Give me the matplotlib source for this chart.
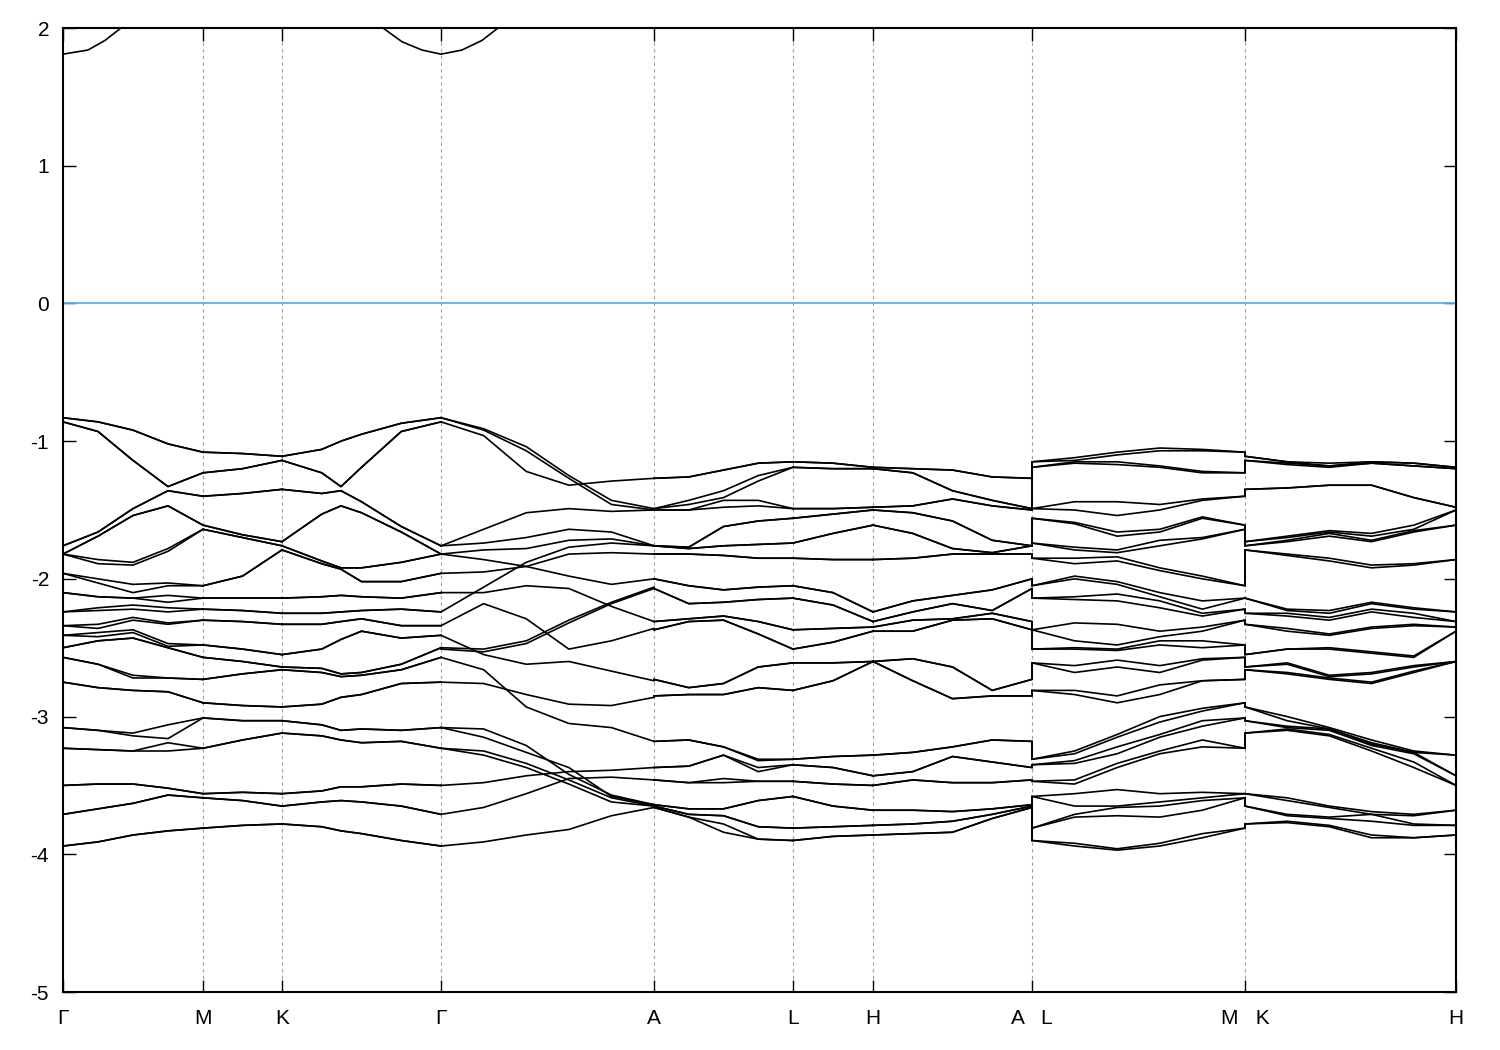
import numpy as np
import matplotlib
matplotlib.use("Agg")
import matplotlib.pyplot as plt

plt.rcParams['font.family'] = ['Liberation Sans', 'DejaVu Sans']
plt.rcParams['axes.unicode_minus'] = False

# high-symmetry points along the path (normalised path length)
hsp_pos = [0.0, 0.1005, 0.1572, 0.2714, 0.4243, 0.5240, 0.5815, 0.6956, 0.8485, 1.0]
hsp_labels = ['Γ', 'M', 'K', 'Γ', 'A', 'L', 'H', 'A   L', 'M   K', 'H']

# energies (eV) read column by column; a float is a twofold level,
# a tuple is a pair that is split at that k
G = [-0.83, -0.86, -1.76, -1.82, -1.82, -1.96, -2.10, -2.24, -2.34, -2.41, -2.50, -2.57, -2.75, -3.08, -3.23, -3.50, -3.71, -3.94]
M = [-1.08, -1.23, -1.40, -1.61, -1.64, -2.05, -2.14, -2.22, -2.30, -2.48, -2.57, -2.73, -2.90, -3.01, -3.23, -3.56, -3.59, -3.81]
K = [-1.11, -1.14, -1.35, -1.73, -1.76, -1.79, -2.14, -2.25, -2.33, -2.55, -2.64, -2.66, -2.93, -3.03, -3.12, -3.56, -3.65, -3.78]
A = [-1.27, -1.49, -1.50, -1.76, -1.76, -1.82, -2.00, -2.07, -2.31, -2.37, -2.73, -2.85, -3.18, -3.37, -3.46, -3.64, -3.65, -3.66]
L = [-1.15, -1.19, -1.49, -1.56, -1.74, -1.85, -2.05, -2.14, -2.37, -2.51, -2.61, -2.81, -3.31, -3.35, -3.47, -3.58, -3.81, -3.90]
H = [-1.19, -1.20, -1.48, -1.50, -1.61, -1.86, -2.24, -2.31, -2.35, -2.38, -2.60, -2.60, -3.28, -3.43, -3.50, -3.68, -3.79, -3.86]

gm1 = [-0.86, -0.93, -1.66, -1.69, (-1.86, -1.89), (-2.00, -2.03), -2.13, (-2.21, -2.23), (-2.33, -2.36), (-2.39, -2.42), -2.45, -2.62, -2.79, -3.10, -3.24, -3.49, -3.67, -3.91]
gm2 = [-0.92, -1.14, -1.49, -1.54, (-1.88, -1.90), (-2.04, -2.10), -2.14, (-2.19, -2.22), (-2.28, -2.30), (-2.37, -2.39), -2.43, (-2.70, -2.72), -2.81, (-3.12, -3.14), -3.25, -3.49, -3.63, -3.86]
gm3 = [-1.02, -1.33, -1.36, -1.47, (-1.78, -1.80), (-2.03, -2.05), (-2.12, -2.17), (-2.21, -2.24), (-2.32, -2.33), (-2.47, -2.49), -2.50, -2.72, -2.82, (-3.06, -3.16), (-3.19, -3.25), -3.52, -3.57, -3.83]
mk1 = [-1.09, -1.20, -1.38, -1.68, -1.70, -1.98, -2.14, -2.23, -2.31, -2.51, -2.60, -2.69, -2.92, -3.03, -3.17, -3.55, -3.61, -3.79]
kg1 = [-1.06, -1.23, -1.38, -1.53, -1.87, -1.89, -2.13, -2.25, -2.33, -2.51, -2.65, -2.68, -2.91, -3.06, -3.14, -3.54, -3.62, -3.80]
kgc = [-1.00, -1.33, -1.36, -1.47, -1.92, -1.93, -2.12, -2.24, -2.31, -2.44, -2.69, -2.71, -2.86, -3.10, -3.17, -3.51, -3.61, -3.83]
kg2 = [-0.95, -1.19, -1.44, -1.52, -1.92, -2.02, -2.13, -2.23, -2.29, -2.38, -2.68, -2.70, -2.84, -3.09, -3.19, -3.51, -3.62, -3.85]
kg3 = [-0.87, -0.93, -1.62, -1.66, -1.88, -2.02, -2.14, -2.22, -2.34, -2.43, -2.62, -2.66, -2.76, -3.10, -3.18, -3.49, -3.65, -3.90]

# Γ-A: bands followed one by one (they cross a lot), at 0, .2, .4, .6, .8, 1
ga_frac = [0, 0.2, 0.4, 0.6, 0.8, 1]
ga_lines = [
    [-0.86, -0.96, -1.22, -1.32, -1.29, -1.27],
    [-0.83, -0.91, -1.04, -1.25, -1.43, -1.49],
    [-0.83, -0.92, -1.07, -1.27, -1.46, -1.50],
    [-1.76, -1.64, -1.52, -1.49, -1.51, -1.50],
    [-1.76, -1.74, -1.70, -1.64, -1.66, -1.76],
    [-1.82, -1.79, -1.78, -1.72, -1.71, -1.76],
    [-1.82, -1.86, -1.91, -1.98, -2.04, -2.00],
    [-1.96, -1.95, -1.91, -1.82, -1.81, -1.82],
    [-2.10, -2.10, -2.05, -2.07, -2.20, -2.31],
    [-2.24, -2.06, -1.88, -1.77, -1.74, -1.76],
    [-2.34, -2.18, -2.29, -2.51, -2.45, -2.36],
    [-2.41, -2.55, -2.62, -2.60, -2.67, -2.74],
    [-2.50, -2.51, -2.45, -2.30, -2.17, -2.06],
    [-2.51, -2.53, -2.47, -2.32, -2.18, -2.07],
    [-2.57, -2.66, -2.93, -3.05, -3.08, -3.18],
    [-2.75, -2.76, -2.84, -2.91, -2.92, -2.86],
    [-3.08, -3.09, -3.21, -3.42, -3.57, -3.64],
    [-3.08, -3.15, -3.26, -3.37, -3.58, -3.64],
    [-3.23, -3.28, -3.37, -3.49, -3.62, -3.65],
    [-3.23, -3.25, -3.34, -3.46, -3.59, -3.65],
    [-3.50, -3.48, -3.43, -3.40, -3.39, -3.37],
    [-3.71, -3.66, -3.56, -3.45, -3.44, -3.46],
    [-3.94, -3.91, -3.86, -3.82, -3.72, -3.66],
]

al1 = [-1.26, (-1.43, -1.46), -1.50, -1.77, -1.78, -1.82, -2.05, -2.18, -2.29, -2.31, -2.79, -2.84, -3.17, -3.36, -3.48, -3.67, -3.71, -3.73]
al2 = [-1.21, (-1.36, -1.41), (-1.43, -1.48), -1.62, -1.76, -1.83, -2.08, -2.17, -2.27, -2.30, -2.76, -2.84, -3.22, -3.28, (-3.45, -3.48), -3.67, -3.72, (-3.78, -3.84)]
al3 = [-1.16, (-1.25, -1.29), (-1.43, -1.47), -1.58, -1.75, -1.85, -2.06, -2.15, -2.31, -2.40, -2.64, -2.79, (-3.31, -3.32), (-3.37, -3.40), -3.47, -3.61, -3.80, -3.89]
lh1 = [-1.16, -1.20, -1.49, -1.53, -1.67, -1.86, -2.10, -2.19, -2.36, -2.46, -2.61, -2.74, -3.29, -3.37, -3.49, -3.65, -3.80, -3.87]
ha1 = [-1.20, -1.23, -1.47, -1.52, -1.67, -1.85, -2.16, -2.24, -2.30, -2.38, -2.58, -2.74, -3.26, -3.40, -3.46, -3.68, -3.78, -3.85]
ha2 = [-1.21, -1.36, -1.42, -1.58, -1.78, -1.82, -2.12, -2.18, -2.29, -2.30, -2.64, -2.87, -3.22, -3.29, -3.48, -3.69, -3.76, -3.84]
ha3 = [-1.26, -1.43, -1.47, -1.72, -1.81, -1.82, -2.08, -2.23, -2.25, -2.29, -2.81, -2.85, -3.17, -3.33, -3.48, -3.67, -3.71, -3.74]

lm1 = [(-1.12, -1.14), (-1.15, -1.16), (-1.44, -1.50), (-1.59, -1.60), (-1.77, -1.79), (-1.85, -1.89), (-1.98, -2.00), (-2.13, -2.15), (-2.32, -2.45), (-2.50, -2.51), (-2.63, -2.68), (-2.81, -2.84), (-3.25, -3.27), (-3.32, -3.34), (-3.46, -3.49), (-3.56, -3.65), (-3.71, -3.73), (-3.92, -3.94)]
lm2 = [(-1.08, -1.10), (-1.15, -1.17), (-1.44, -1.54), (-1.66, -1.69), (-1.79, -1.81), (-1.84, -1.87), (-2.02, -2.04), (-2.11, -2.16), (-2.33, -2.48), (-2.51, -2.52), (-2.59, -2.64), (-2.85, -2.90), (-3.13, -3.15), (-3.22, -3.27), (-3.34, -3.37), (-3.53, -3.66), (-3.65, -3.72), (-3.96, -3.97)]
lm3 = [(-1.05, -1.07), (-1.18, -1.19), (-1.46, -1.50), (-1.64, -1.66), (-1.72, -1.76), (-1.92, -1.94), (-2.10, -2.13), (-2.16, -2.21), (-2.38, -2.42), (-2.45, -2.48), (-2.63, -2.68), (-2.77, -2.84), (-3.00, -3.04), (-3.13, -3.15), (-3.25, -3.27), (-3.56, -3.73), (-3.62, -3.65), (-3.92, -3.94)]
lm4 = [(-1.06, -1.07), (-1.22, -1.23), (-1.42, -1.43), (-1.55, -1.56), (-1.70, -1.71), (-1.98, -2.00), (-2.16, -2.25), (-2.22, -2.27), (-2.35, -2.38), (-2.45, -2.50), (-2.58, -2.59), (-2.74, -2.74), (-2.94, -2.96), (-3.03, -3.07), (-3.17, -3.22), (-3.55, -3.68), (-3.59, -3.61), (-3.85, -3.88)]

kh1 = [(-1.15, -1.15), (-1.16, -1.17), (-1.34, -1.34), (-1.69, -1.70), (-1.72, -1.73), (-1.82, -1.83), (-2.22, -2.23), (-2.25, -2.27), (-2.36, -2.38), (-2.51, -2.51), (-2.61, -2.62), (-2.68, -2.69), (-3.00, -3.03), (-3.07, -3.08), (-3.09, -3.10), (-3.59, -3.61), (-3.71, -3.72), (-3.76, -3.77)]
kh2 = [(-1.16, -1.18), (-1.18, -1.19), (-1.32, -1.32), (-1.65, -1.66), (-1.67, -1.69), (-1.85, -1.87), (-2.23, -2.25), (-2.28, -2.30), (-2.40, -2.41), (-2.50, -2.51), (-2.70, -2.71), (-2.72, -2.73), (-3.08, -3.09), (-3.09, -3.10), (-3.13, -3.14), (-3.65, -3.66), (-3.73, -3.74), (-3.79, -3.80)]
kh3 = [(-1.15, -1.15), (-1.16, -1.16), (-1.32, -1.32), (-1.67, -1.69), (-1.72, -1.73), (-1.90, -1.92), (-2.17, -2.18), (-2.22, -2.24), (-2.35, -2.36), (-2.53, -2.54), (-2.68, -2.69), (-2.75, -2.76), (-3.17, -3.19), (-3.20, -3.21), (-3.23, -3.25), (-3.69, -3.71), (-3.71, -3.76), (-3.86, -3.88)]
kh4 = [(-1.16, -1.16), (-1.18, -1.18), (-1.41, -1.41), (-1.61, -1.64), (-1.65, -1.66), (-1.89, -1.90), (-2.21, -2.22), (-2.25, -2.28), (-2.33, -2.34), (-2.56, -2.57), (-2.63, -2.64), (-2.67, -2.68), (-3.25, -3.26), (-3.26, -3.27), (-3.33, -3.37), (-3.71, -3.72), (-3.78, -3.79), (-3.88, -3.88)]

# (start point, end point, fractions along the segment, columns)
segments = [
    (0, 1, [0, 0.25, 0.5, 0.75, 1], [G, gm1, gm2, gm3, M]),
    (1, 2, [0, 0.5, 1], [M, mk1, K]),
    (2, 3, [0, 0.25, 0.371, 0.5, 0.75, 1], [K, kg1, kgc, kg2, kg3, G]),
    (4, 5, [0, 0.25, 0.5, 0.75, 1], [A, al1, al2, al3, L]),
    (5, 6, [0, 0.5, 1], [L, lh1, H]),
    (6, 7, [0, 0.25, 0.5, 0.75, 1], [H, ha1, ha2, ha3, A]),
    (7, 8, [0, 0.2, 0.4, 0.6, 0.8, 1], [L, lm1, lm2, lm3, lm4, M]),
    (8, 9, [0, 0.2, 0.4, 0.6, 0.8, 1], [K, kh1, kh2, kh3, kh4, H]),
]

# conduction band near Γ (path position, energy)
cb1_k = [0.0, 0.0179, 0.0302, 0.0416, 0.0503]
cb1_e = [1.81, 1.84, 1.91, 2.00, 2.07]
cb2_k = [0.2204, 0.2297, 0.2434, 0.2577, 0.2714, 0.2864, 0.3008, 0.3123, 0.3209]
cb2_e = [2.08, 2.00, 1.90, 1.84, 1.81, 1.84, 1.91, 2.00, 2.07]


def expand(col):
    vals = []
    for v in col:
        if isinstance(v, tuple):
            vals.extend(v)
        else:
            vals.extend([v, v])
    return np.sort(vals)


def seg_x(i0, i1, frac):
    return hsp_pos[i0] + np.asarray(frac) * (hsp_pos[i1] - hsp_pos[i0])


fig = plt.figure(figsize=(15, 10.5), dpi=100)
ax = fig.add_axes([63 / 1500, 1 - 992 / 1050, 1393 / 1500, 964 / 1050])

for x in hsp_pos[1:-1]:
    ax.axvline(x, color='#a0a0a0', lw=0.8, ls=(0, (3, 3)), zorder=1)

ax.axhline(0, color='#56b4e9', lw=1.3, zorder=2)

band_kw = dict(color='black', lw=1.2, zorder=3)

for i0, i1, fr, seg_cols in segments:
    energies = np.array([expand(c) for c in seg_cols])
    ax.plot(seg_x(i0, i1, fr), energies, **band_kw)

ax.plot(seg_x(3, 4, ga_frac), np.array(ga_lines).T, **band_kw)

# jumps where the path is broken (A|L and M|K)
for idx, left, right in [(7, A, L), (8, M, K)]:
    lo, hi = expand(left), expand(right)
    ax.vlines(np.full(len(lo), hsp_pos[idx]), lo, hi, **band_kw)

ax.plot(cb1_k, cb1_e, **band_kw)
ax.plot(cb2_k, cb2_e, **band_kw)

ax.set_xlim(0, 1)
ax.set_ylim(-5, 2)
ax.set_xticks(hsp_pos)
ax.set_xticklabels(hsp_labels)
ax.set_yticks(range(-5, 3))
ax.tick_params(axis='both', direction='in', length=9, width=1,
               top=True, right=True, labelsize=15)
ax.tick_params(axis='x', pad=12)
ax.tick_params(axis='y', pad=10)
for s in ax.spines.values():
    s.set_linewidth(1.5)

fig.savefig('out.png', dpi=100)
